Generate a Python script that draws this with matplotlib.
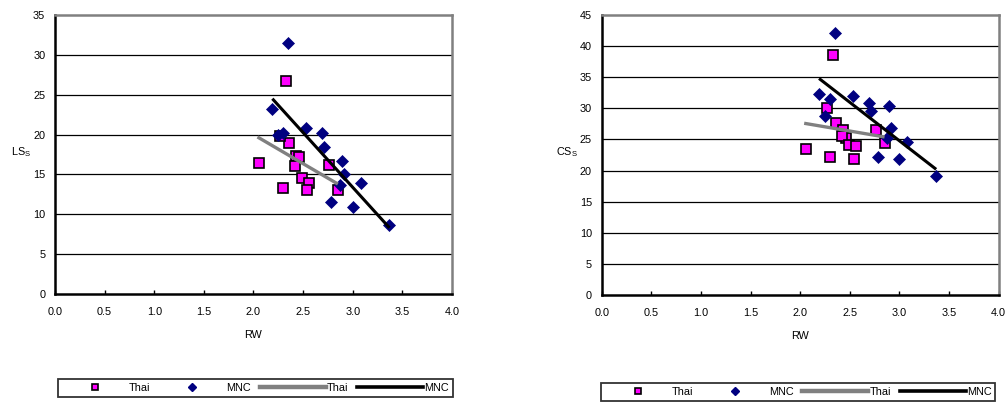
import matplotlib
matplotlib.use("Agg")
import matplotlib.pyplot as plt
from matplotlib.lines import Line2D

plt.rcParams['font.family'] = ['Liberation Sans', 'DejaVu Sans']
plt.rcParams['mathtext.default'] = 'regular'

# ---- data ----
thai_rw = [2.33, 2.06, 2.36, 2.43, 2.46, 2.42, 2.30, 2.49, 2.56, 2.54, 2.76, 2.85, 2.27]
thai_ls = [26.7, 16.4, 18.9, 17.3, 17.2, 16.0, 13.3, 14.5, 13.9, 13.1, 16.2, 13.0, 19.8]
thai_cs = [38.6, 23.4, 27.6, 26.5, 25.2, 25.6, 22.2, 24.1, 24.0, 21.8, 26.5, 24.5, 30.0]

mnc_rw = [2.35, 2.19, 2.25, 2.30, 2.53, 2.69, 2.71, 2.89, 2.91, 2.87, 3.08, 2.78, 3.00, 3.37]
mnc_ls = [31.5, 23.2, 19.9, 20.2, 20.8, 20.2, 18.5, 16.7, 15.1, 13.7, 13.9, 11.5, 10.9, 8.7]
mnc_cs = [42.1, 32.3, 28.7, 31.5, 32.0, 30.9, 29.5, 30.4, 26.8, 25.2, 24.6, 22.2, 21.8, 19.2]

# linear trend lines (end points)
thai_fit_rw = [2.04, 2.85]
thai_fit_ls = [19.7, 13.8]
thai_fit_cs = [27.6, 25.4]
mnc_fit_rw = [2.19, 3.37]
mnc_fit_ls = [24.5, 8.3]
mnc_fit_cs = [34.8, 20.2]

x_ticks = [0.0, 0.5, 1.0, 1.5, 2.0, 2.5, 3.0, 3.5, 4.0]
legend_labels = ['Thai', 'MNC', 'Thai', 'MNC']

W, H = 1008, 403
fig = plt.figure(figsize=(W / 100, H / 100), dpi=100)

FS = 7.8
THAI_FC = '#FF00FF'
MNC_C = '#000080'
GRAY = '#808080'


def make_panel(rect, ys_thai, ys_mnc, fit_thai, fit_mnc, ymax, ylabel, label_x, legend_anchor):
    ax = fig.add_axes(rect)
    ax.set_xlim(0, 4.0)
    ax.set_ylim(0, ymax)
    ax.set_xticks(x_ticks)
    ax.set_xticklabels([f'{t:.1f}' for t in x_ticks])
    ax.set_yticks(list(range(0, ymax + 1, 5)))
    ax.tick_params(axis='x', direction='in', length=3, width=1, pad=9.5, labelsize=FS)
    ax.tick_params(axis='y', length=0, pad=7, labelsize=FS)
    for y in range(5, ymax, 5):
        ax.axhline(y, color='black', lw=0.9, zorder=1)
    for s in ['left', 'bottom']:
        ax.spines[s].set_color('black')
        ax.spines[s].set_linewidth(1.8)
    for s in ['top', 'right']:
        ax.spines[s].set_color(GRAY)
        ax.spines[s].set_linewidth(1.8)

    ax.plot(thai_rw, ys_thai, ls='none', marker='s', ms=7.2, mfc=THAI_FC, mec='black',
            mew=1.2, zorder=3, clip_on=False)
    ax.plot(mnc_rw, ys_mnc, ls='none', marker='D', ms=6.2, mfc=MNC_C, mec=MNC_C,
            mew=0.5, zorder=4, clip_on=False)
    ax.plot(thai_fit_rw, fit_thai, color=GRAY, lw=2.4, solid_capstyle='butt', zorder=5)
    ax.plot(mnc_fit_rw, fit_mnc, color='black', lw=2.2, solid_capstyle='butt', zorder=6)

    ax.set_xlabel('RW', fontsize=FS, labelpad=9)
    ax.set_ylabel(ylabel, fontsize=FS, rotation=0, va='center', ha='center')
    ax.yaxis.set_label_coords(label_x, 0.51)

    handles = [
        Line2D([], [], ls='none', marker='s', ms=4.5, mfc=THAI_FC, mec='black', mew=1.2),
        Line2D([], [], ls='none', marker='D', ms=4.0, mfc=MNC_C, mec=MNC_C),
        Line2D([], [], color=GRAY, lw=3.2),
        Line2D([], [], color='black', lw=2.6),
    ]
    leg = fig.legend(handles, legend_labels, loc='upper left', bbox_to_anchor=legend_anchor,
                     ncol=4, fontsize=FS, frameon=True, fancybox=False, shadow=False,
                     handlelength=6.1, handletextpad=0.1, columnspacing=0.8,
                     borderpad=0.35, borderaxespad=0.0)
    fr = leg.get_frame()
    fr.set_edgecolor('black')
    fr.set_linewidth(1.3)
    return ax


make_panel([55 / W, 1 - 294 / H, 397 / W, 279 / H], thai_ls, mnc_ls, thai_fit_ls, mnc_fit_ls,
           35, 'LS$_S$', -0.086, (58 / W, 1 - 379 / H))
make_panel([601.7 / W, 1 - 295 / H, 397 / W, 280 / H], thai_cs, mnc_cs, thai_fit_cs, mnc_fit_cs,
           45, 'CS$_S$', -0.087, (600.7 / W, 1 - 383 / H))

fig.savefig('out.png', dpi=100)
